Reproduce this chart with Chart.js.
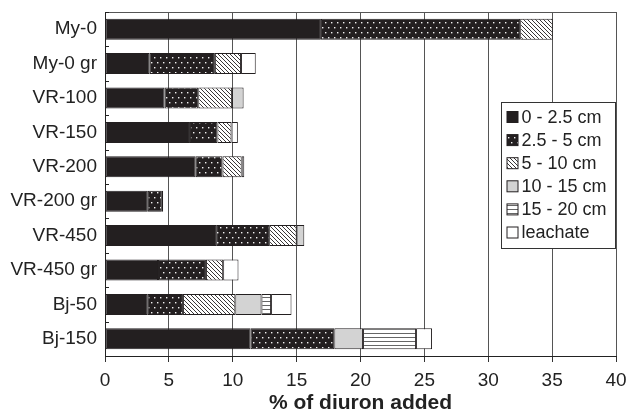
<!DOCTYPE html>
<html>
<head>
<meta charset="utf-8">
<script src="https://cdn.jsdelivr.net/npm/chart.js@4.4.1/dist/chart.umd.min.js"></script>
<style>
  html, body { margin: 0; padding: 0; background: #fff; }
</style>
</head>
<body>
<canvas id="diuron" width="628" height="416"></canvas>
<script>
// soil profiles, top to bottom
var profiles = ['My-0', 'My-0 gr', 'VR-100', 'VR-150', 'VR-200', 'VR-200 gr', 'VR-450', 'VR-450 gr', 'Bj-50', 'Bj-150'];

// % of diuron added, per depth layer
var layer0_25   = [16.9, 3.5, 4.65, 6.65, 7.1, 3.35, 8.7, 4.15, 3.35, 11.4];
var layer25_5   = [15.6, 5.1, 2.65, 2.15, 2.1, 1.1, 4.15, 3.75, 2.75, 6.55];
var layer5_10   = [2.55, 2.05, 2.65, 1.1, 1.5, 0, 2.15, 1.35, 4.1, 0];
var layer10_15  = [0, 0, 0.9, 0, 0.2, 0.1, 0.6, 0, 2.05, 2.25];
var layer15_20  = [0, 0, 0, 0, 0, 0, 0, 0, 0.75, 4.15];
var leachate    = [0, 1.15, 0, 0.5, 0, 0, 0, 1.2, 1.6, 1.25];

var seriesNames = ['0 - 2.5 cm', '2.5 - 5 cm', '5 - 10 cm', '10 - 15 cm', '15 - 20 cm', 'leachate'];

var FONT = 'Arial, "Liberation Sans", sans-serif';
var INK = '#231f20';

function makePattern(kind) {
  var c = document.createElement('canvas');
  var g = c.getContext('2d');
  if (kind === 'dots') {
    c.width = 6; c.height = 10;
    g.fillStyle = INK; g.fillRect(0, 0, 6, 10);
    g.fillStyle = '#f2f2f2';
    g.fillRect(1, 2, 1.4, 1.4);
    g.fillRect(4, 7, 1.4, 1.4);
  } else if (kind === 'hatch') {
    c.width = 4; c.height = 4;
    g.fillStyle = '#fff'; g.fillRect(0, 0, 4, 4);
    g.strokeStyle = INK; g.lineWidth = 0.9;
    g.beginPath();
    g.moveTo(-1, -1); g.lineTo(5, 5);
    g.moveTo(-1, 3); g.lineTo(1, 5);
    g.moveTo(3, -1); g.lineTo(5, 1);
    g.stroke();
  } else if (kind === 'hlines') {
    c.width = 4; c.height = 4;
    g.fillStyle = '#fff'; g.fillRect(0, 0, 4, 4);
    g.fillStyle = '#666'; g.fillRect(0, 1, 4, 1);
  }
  return g.createPattern(c, 'repeat');
}

var ctx = document.getElementById('diuron').getContext('2d');

var fills = [INK, makePattern('dots'), makePattern('hatch'), '#d3d3d3', makePattern('hlines'), '#ffffff'];
var values = [layer0_25, layer25_5, layer5_10, layer10_15, layer15_20, leachate];

var datasets = values.map(function(v, i) {
  return {
    label: seriesNames[i],
    data: v,
    backgroundColor: fills[i],
    borderColor: INK,
    borderWidth: 1,
    borderSkipped: false,
    barPercentage: 0.61,
    categoryPercentage: 1.0
  };
});

// top frame line and small inward ticks between categories
var frameLine = {
  id: 'frameLine',
  afterDatasetsDraw: function(chart) {
    var a = chart.chartArea, c = chart.ctx, ys = chart.scales.y;
    c.save();
    c.strokeStyle = '#555';
    c.lineWidth = 1;
    c.beginPath();
    c.moveTo(a.left, a.top + 0.5);
    c.lineTo(a.right, a.top + 0.5);
    c.stroke();
    c.strokeStyle = '#222';
    c.beginPath();
    for (var i = 0; i <= profiles.length; i++) {
      var py = Math.round(ys.getPixelForValue(i - 0.5)) + 0.5;
      c.moveTo(a.left, py);
      c.lineTo(a.left + 4, py);
    }
    c.stroke();
    c.restore();
  }
};

// boxed legend sitting inside the plot on the right
var boxLegend = {
  id: 'boxLegend',
  afterDraw: function(chart) {
    var c = chart.ctx;
    var x = 501.5, y = 102.5, w = 114, h = 146, row = 23.1;
    c.save();
    c.fillStyle = '#fff';
    c.fillRect(x, y, w, h);
    c.strokeStyle = '#333';
    c.lineWidth = 1;
    c.strokeRect(x, y, w, h);
    c.font = '18px ' + FONT;
    c.textBaseline = 'middle';
    chart.data.datasets.forEach(function(ds, i) {
      var cy = y + 14.5 + i * row;
      c.fillStyle = ds.backgroundColor;
      c.fillRect(x + 5.5, cy - 5.5, 11, 11);
      c.strokeStyle = INK;
      c.strokeRect(x + 5.5, cy - 5.5, 11, 11);
      c.fillStyle = '#222';
      c.fillText(ds.label, x + 20, cy + 1);
    });
    c.restore();
  }
};

new Chart(ctx, {
  type: 'bar',
  data: {
    labels: profiles,
    datasets: datasets
  },
  options: {
    indexAxis: 'y',
    responsive: false,
    animation: false,
    devicePixelRatio: 1,
    layout: { padding: { top: 12, right: 12, left: 0, bottom: 0 } },
    plugins: {
      legend: { display: false },
      tooltip: { enabled: false }
    },
    scales: {
      x: {
        stacked: true,
        min: 0,
        max: 40,
        afterFit: function(s) { s.height = 60; s.paddingRight = 0; s.paddingLeft = 0; },
        ticks: { stepSize: 5, color: '#222', font: { family: FONT, size: 19 }, padding: 7 },
        grid: { color: '#555', tickColor: '#333', tickLength: 6 },
        border: { display: true, color: '#222', width: 1 },
        title: {
          display: true,
          text: '% of diuron added',
          color: '#222',
          font: { family: FONT, size: 21, weight: 'bold' },
          padding: { top: 0, bottom: 0 }
        }
      },
      y: {
        stacked: true,
        afterFit: function(s) { s.width = 105; s.paddingTop = 0; s.paddingBottom = 0; },
        ticks: { color: '#222', font: { family: FONT, size: 19 }, padding: 0 },
        grid: { display: false },
        border: { display: true, color: '#222', width: 1 }
      }
    }
  },
  plugins: [frameLine, boxLegend]
});
</script>
</body>
</html>
